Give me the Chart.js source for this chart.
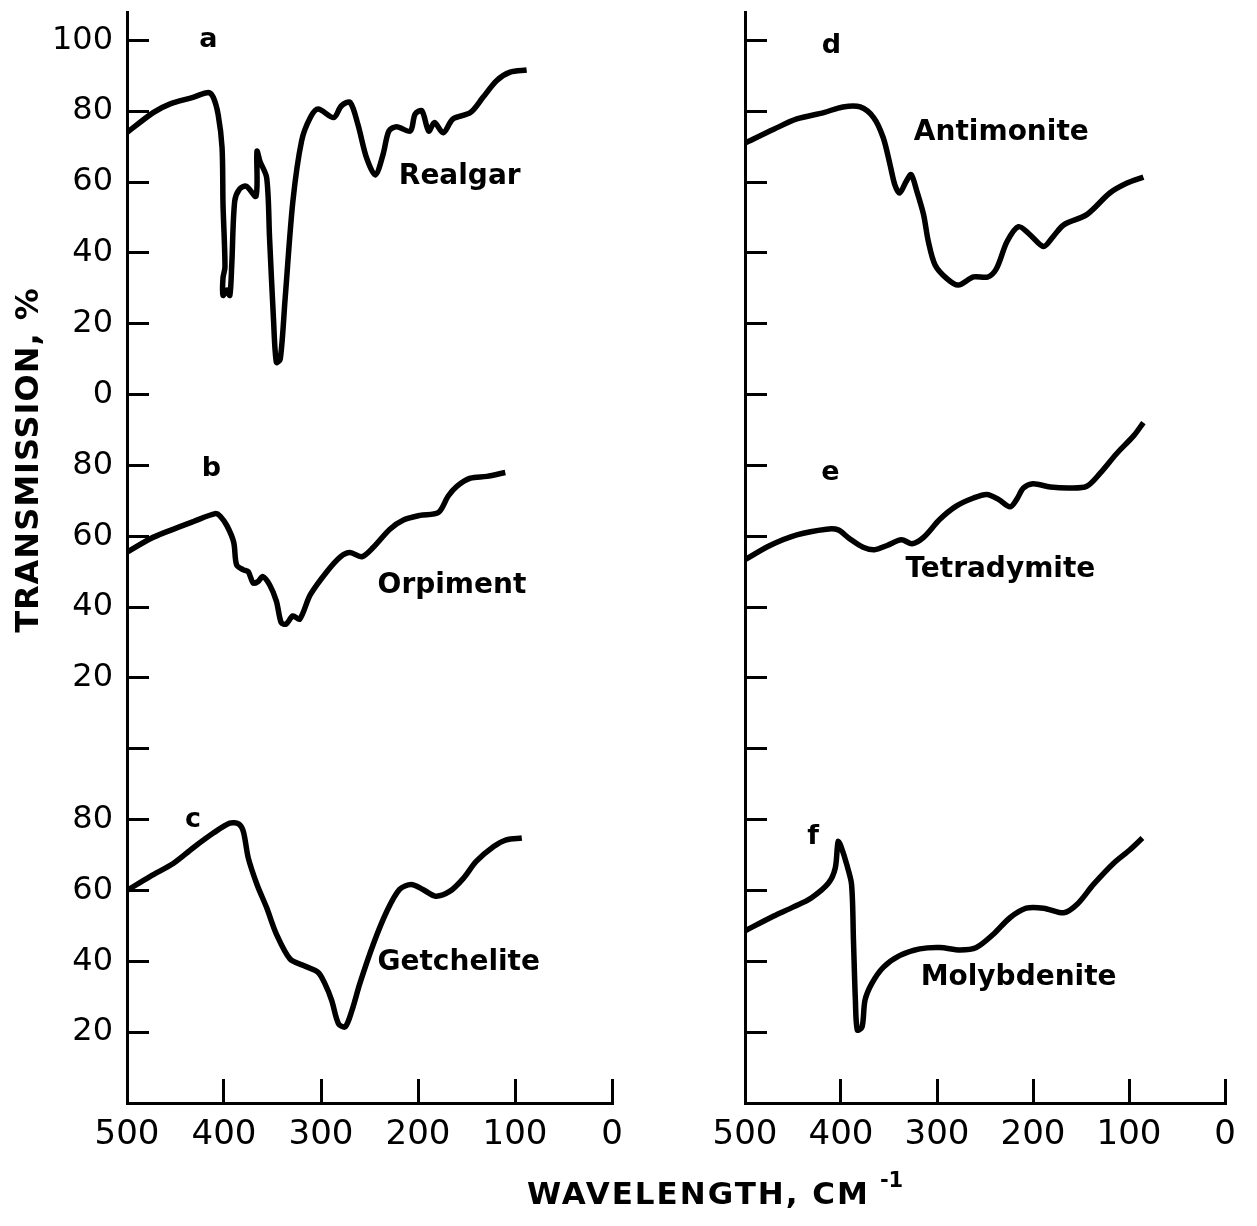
<!DOCTYPE html>
<html>
<head>
<meta charset="utf-8">
<title>Far-infrared spectra of sulfide minerals</title>
<script src="https://cdn.jsdelivr.net/npm/chart.js@4.4.1/dist/chart.umd.min.js"></script>
<style>
  body { margin: 0; background: #fff; width: 1257px; height: 1226px; position: relative; overflow: hidden; font-family: "DejaVu Sans", sans-serif; }
  canvas { position: absolute; top: 0; }
  #left { left: 0; }
  #right { left: 650px; }
  #xtitle { position: absolute; left: 527px; top: 1174px; font-size: 31px; font-weight: bold; letter-spacing: 2px; color: #000; white-space: nowrap; }
  #xtitle sup { font-size: 21px; letter-spacing: 0; margin-left: 10px; position: relative; top: -6px; }
</style>
</head>
<body>
<canvas id="left" width="650" height="1226"></canvas>
<canvas id="right" width="607" height="1226"></canvas>
<div id="xtitle">WAVELENGTH, CM<sup>-1</sup></div>
<script>
// wavenumber (cm-1) and transmission (%)

const realgarX = [500, 473, 456, 432, 416, 411, 406, 402, 401, 399, 401, 401, 397, 394, 392, 389, 384, 377, 367, 366, 363, 356, 353, 349, 346, 342, 337, 329, 320, 311, 303, 287, 279, 270, 262, 253, 244, 236, 230, 222, 208, 203, 196, 189, 183, 174, 164, 146, 133, 119, 105, 88];
const realgarT = [74, 79.6, 82, 83.9, 85.3, 83.9, 79, 69.7, 53.6, 36, 33, 28, 29.5, 28, 36.6, 54.5, 58, 58.8, 56, 68.7, 65.9, 61.2, 44, 21.4, 9.1, 10, 27, 54.5, 71.6, 78.2, 80.6, 78.2, 81.5, 82.5, 76.3, 66.8, 62, 67.8, 74.4, 75.6, 74.4, 79.2, 80.1, 74.4, 76.8, 73.9, 77.8, 79.6, 83.9, 88.6, 91, 91.6];

const orpimentX = [500, 476, 456, 432, 409, 404, 397, 390, 387, 380, 375, 370, 365, 360, 353, 346, 341, 336, 329, 322, 311, 294, 280, 270, 258, 246, 229, 215, 198, 179, 169, 160, 146, 129, 110];
const orpimentT = [55.5, 59.3, 61.6, 64.1, 66.4, 65.7, 63, 58.3, 51.9, 50.5, 50, 46.8, 47.2, 48.6, 46.3, 41.7, 35.6, 35.2, 37.5, 36.6, 43.5, 50, 54.2, 55.4, 54.2, 56.9, 62, 64.6, 65.9, 66.7, 71.3, 74.1, 76.4, 76.9, 78];

const getcheliteX = [500, 476, 452, 432, 411, 394, 385, 380, 375, 366, 356, 346, 332, 318, 303, 296, 289, 282, 275, 268, 260, 246, 232, 219, 207, 195, 182, 167, 153, 140, 122, 109, 93];
const getcheliteT = [60, 64, 67.7, 72, 76.2, 79, 78.8, 76.6, 69.2, 61.7, 55.1, 47.7, 40.7, 38.8, 36.9, 33.7, 29, 22.4, 21.5, 26.2, 33.7, 44.9, 54.2, 60.3, 61.7, 60.3, 58.4, 59.8, 63.5, 68.2, 72.4, 74.3, 74.8];

const antimoniteX = [500, 470, 446, 418, 398, 380, 366, 356, 349, 344, 339, 332, 327, 321, 314, 309, 302, 290, 278, 262, 247, 238, 227, 215, 203, 189, 179, 168, 144, 120, 102, 85];
const antimoniteT = [71, 74.9, 77.8, 79.6, 81.2, 81.2, 78.2, 72.5, 65, 59.3, 56.9, 60.2, 62.1, 57.4, 50.8, 43.2, 36.6, 32.8, 30.9, 33.2, 33.2, 35.6, 43.2, 47.4, 45.1, 41.8, 44.6, 47.9, 50.8, 56.9, 59.7, 61.4];

const tetradymiteX = [500, 474, 446, 415, 403, 391, 377, 365, 352, 337, 326, 314, 297, 280, 262, 248, 236, 224, 217, 210, 200, 182, 161, 144, 130, 113, 95, 85];
const tetradymiteT = [53.4, 57.4, 60.4, 62, 61.8, 59.3, 56.9, 56.2, 57.4, 59, 57.9, 59.7, 64.8, 68.5, 70.8, 71.8, 70.4, 68.3, 70.4, 73.6, 74.8, 73.9, 73.6, 74.1, 77.8, 83.3, 88.4, 92.1];

const molybdeniteX = [500, 470, 450, 431, 413, 406, 403, 400, 394, 389, 387, 385, 383, 378, 375, 368, 356, 339, 318, 297, 276, 259, 241, 224, 207, 189, 168, 154, 137, 116, 99, 86];
const molybdeniteT = [48.6, 52.8, 55.3, 57.9, 62.1, 66.3, 73.8, 72.4, 67.3, 61.7, 45.8, 29, 20.6, 21.5, 29, 33.7, 38.3, 41.6, 43.5, 43.9, 43.2, 43.9, 47.7, 52.3, 55, 55, 53.7, 56.1, 61.7, 67.7, 71.5, 74.8];

// the three traces of a column share one axis, each shifted up by its offset
const panelOffsets = [200, 100, 0];

// tick labels on the shared axis, one per 20 units from the bottom
const yTickLabels = ['', '20', '40', '60', '80', '', '20', '40', '60', '80', '0', '20', '40', '60', '80', '100'];

// panel captions: [text, wavenumber, shifted transmission]
const leftLabels = [
    ['a', 416, 300], ['Realgar', 157, 261.5],
    ['b', 413, 179], ['Orpiment', 165, 146],
    ['c', 432, 80], ['Getchelite', 158, 39.5]
];
const rightLabels = [
    ['d', 410, 298.5], ['Antimonite', 233, 274],
    ['e', 411, 178], ['Tetradymite', 234, 150.5],
    ['f', 429, 75], ['Molybdenite', 215, 35.3]
];

function trace(xs, ts, offset) {
    return {
        data: xs.map((x, i) => ({ x: x, y: ts[i] + offset })),
        borderColor: '#000',
        borderWidth: 5.5,
        pointRadius: 0,
        tension: 0.3,
        fill: false
    };
}

const labelPlugin = {
    id: 'captions',
    afterDatasetsDraw(chart, args, opts) {
        const ctx = chart.ctx;
        const xs = chart.scales.x;
        const ys = chart.scales.y;
        ctx.save();
        ctx.fillStyle = '#000';
        ctx.textAlign = 'center';
        ctx.textBaseline = 'middle';
        for (let item of opts.items) {
            const single = item[0].length === 1;
            ctx.font = single ? 'bold 27px "DejaVu Sans"' : 'bold 28px "DejaVu Sans"';
            ctx.fillText(item[0], xs.getPixelForValue(item[1]), ys.getPixelForValue(item[2]));
        }
        if (opts.yTitle) {
            ctx.font = 'bold 32px "DejaVu Sans"';
            ctx.letterSpacing = '1px';
            ctx.translate(30, 460);
            ctx.rotate(-Math.PI / 2);
            ctx.fillText(opts.yTitle, 0, 0);
        }
        ctx.restore();
    }
};

function makeOptions(axisWidth, rightPad, showY, items, yTitle) {
    return {
        responsive: false,
        animation: false,
        layout: { padding: { top: 12, right: rightPad, left: 0, bottom: 0 } },
        plugins: {
            legend: { display: false },
            tooltip: { enabled: false },
            captions: { items: items, yTitle: yTitle }
        },
        scales: {
            x: {
                type: 'linear',
                reverse: true,
                min: 0,
                max: 500,
                ticks: { stepSize: 100, color: '#000', padding: 36, font: { family: 'DejaVu Sans', size: 34 } },
                grid: { drawOnChartArea: false, tickLength: -24, color: '#000', lineWidth: 3 },
                border: { color: '#000', width: 3 },
                afterFit(s) { s.height = 123; s.paddingLeft = 0; s.paddingRight = 0; }
            },
            y: {
                type: 'linear',
                min: 0,
                max: 308,
                ticks: {
                    stepSize: 20,
                    includeBounds: false,
                    color: '#000',
                    padding: 36,
                    font: { family: 'DejaVu Sans', size: 32, lineHeight: 0.8 },
                    callback: (v) => showY ? (yTickLabels[Math.round(v / 20)] || '') : ''
                },
                grid: { drawOnChartArea: false, tickLength: -22, color: '#000', lineWidth: 3 },
                border: { color: '#000', width: 3 },
                afterFit(s) { s.width = axisWidth; s.paddingTop = 0; s.paddingBottom = 0; }
            }
        }
    };
}

new Chart(document.getElementById('left'), {
    type: 'line',
    data: {
        datasets: [
            trace(realgarX, realgarT, panelOffsets[0]),
            trace(orpimentX, orpimentT, panelOffsets[1]),
            trace(getcheliteX, getcheliteT, panelOffsets[2])
        ]
    },
    options: makeOptions(127, 38, true, leftLabels, 'TRANSMISSION, %'),
    plugins: [labelPlugin]
});

new Chart(document.getElementById('right'), {
    type: 'line',
    data: {
        datasets: [
            trace(antimoniteX, antimoniteT, panelOffsets[0]),
            trace(tetradymiteX, tetradymiteT, panelOffsets[1]),
            trace(molybdeniteX, molybdeniteT, panelOffsets[2])
        ]
    },
    options: makeOptions(95, 32, false, rightLabels, null),
    plugins: [labelPlugin]
});
</script>
</body>
</html>
